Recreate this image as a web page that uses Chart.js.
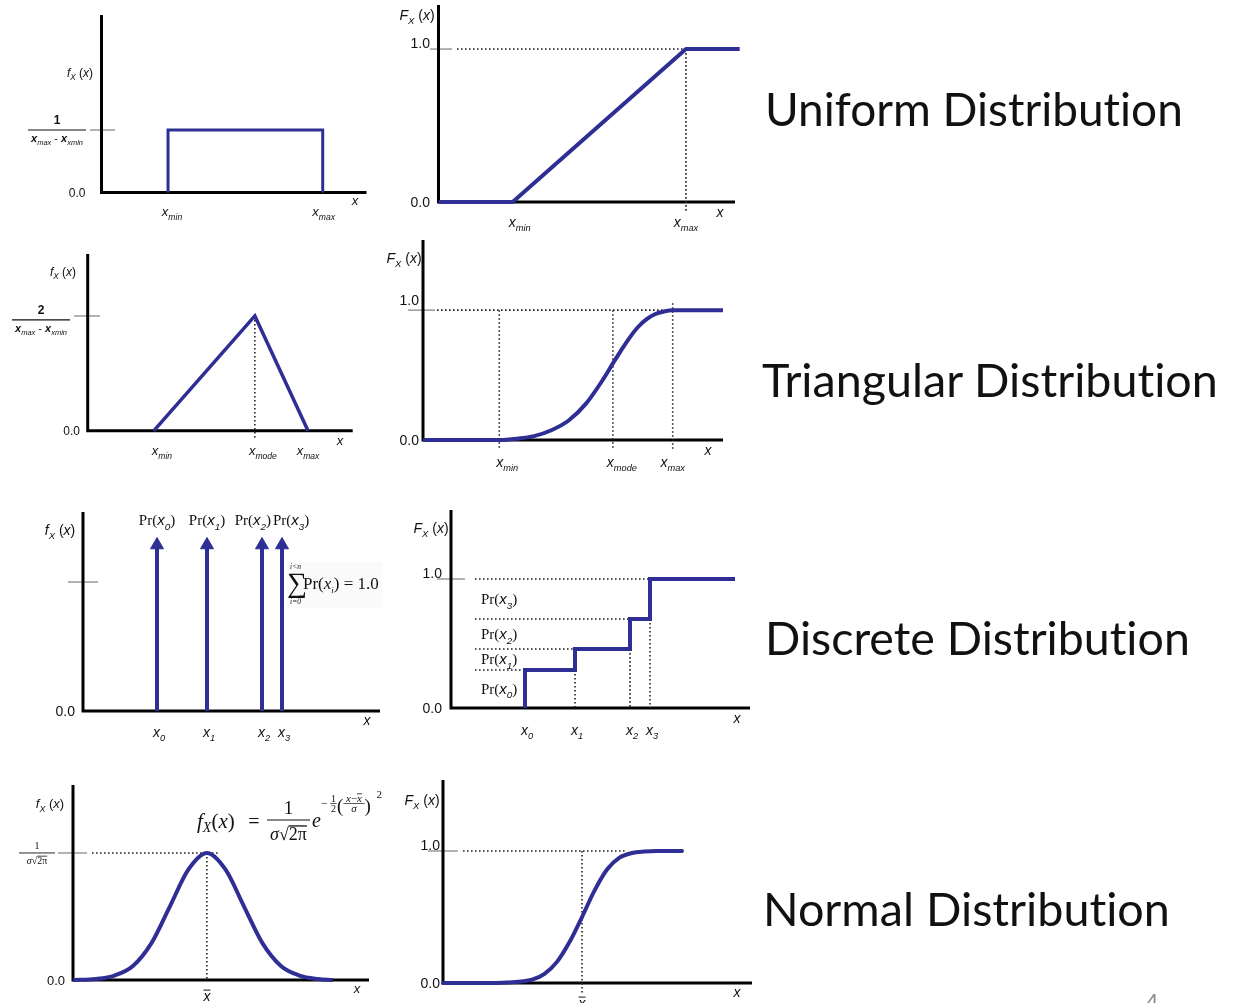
<!DOCTYPE html>
<html>
<head>
<meta charset="utf-8">
<title>Probability distributions</title>
<script src="https://cdn.jsdelivr.net/npm/chart.js@4.4.1/dist/chart.umd.min.js"></script>
<style>
  html, body { margin: 0; padding: 0; background: #fff; }
  body { width: 1243px; height: 1003px; overflow: hidden; position: relative; }
  canvas.panel { position: absolute; left: 0; top: 0; }
  .title { position: absolute; white-space: nowrap; color: #111; font-family: Lato, "Open Sans", "Noto Sans", sans-serif; line-height: 1.2; font-variant-ligatures: none; font-feature-settings: "liga" 0, "clig" 0; }
  .slide-no { position: absolute; left: 1146px; top: 989px; color: #8c8c8c; font: 22px "Liberation Sans", Arial, sans-serif; }
</style>
</head>
<body>
<canvas class="panel" id="uniformPdf"></canvas>
<canvas class="panel" id="uniformCdf"></canvas>
<canvas class="panel" id="triPdf"></canvas>
<canvas class="panel" id="triCdf"></canvas>
<canvas class="panel" id="discPdf"></canvas>
<canvas class="panel" id="discCdf"></canvas>
<canvas class="panel" id="normPdf"></canvas>
<canvas class="panel" id="normCdf"></canvas>
<div class="title" id="tUniform">Uniform Distribution</div>
<div class="title" id="tTri">Triangular Distribution</div>
<div class="title" id="tDisc">Discrete Distribution</div>
<div class="title" id="tNorm">Normal Distribution</div>
<div class="slide-no">4</div>
<script>
// ===========================================
// Uniform / Triangular / Discrete / Normal - pdf & cdf sketches
// ===========================================

// ---- Uniform (x_min = 1, x_max = 2, so 1/(x_max - x_min) = 1) ----
const uniformMarks = [1, 2];
const uniformMarkNames = ['min', 'max'];
const uniformPdfX = [1, 1, 2, 2];
const uniformPdfY = [0, 1, 1, 0];
const uniformCdfX = [0.572, 1, 2, 2.31];
const uniformCdfY = [0, 0, 1, 1];

// ---- Triangular (x_min = 0, x_max = 1) ----
const triMarks = [0, 0.655, 1];
const triMarkNames = ['min', 'mode', 'max'];
const triPdfX = [0, 0.655, 1];
const triPdfY = [0, 2, 0];
const triCdfX = [-0.44, 0, 0.1, 0.2, 0.3, 0.4, 0.5, 0.6, 0.655, 0.7, 0.75, 0.8, 0.85, 0.9, 0.95, 1, 1.29];
const triCdfY = [0, 0, 0.01, 0.03, 0.075, 0.15, 0.28, 0.47, 0.59, 0.685, 0.785, 0.87, 0.93, 0.97, 0.99, 1, 1];

// ---- Discrete ----
const discreteX = [3, 4, 5.1, 5.5];
const discreteNames = ['0', '1', '2', '3'];
const discreteProb = [0.295, 0.162, 0.233, 0.31];
const discreteArrowY = [1.287, 1.287, 1.287, 1.287];
const discreteCdfEnd = 7.2;

// ---- Normal (x in sigma units, mean = 0) ----
const normalPdfX = [-3.62, -3, -2.5, -2, -1.5, -1, -0.5, 0, 0.5, 1, 1.5, 2, 2.5, 3, 3.4];
const normalPdfY = [0, 0.008, 0.035, 0.11, 0.29, 0.58, 0.87, 1, 0.87, 0.58, 0.29, 0.11, 0.035, 0.008, 0];
const normalCdfX = [-5.56, -4, -3, -2, -1.5, -1, -0.5, 0, 0.5, 1, 1.5, 2, 2.5, 3, 4];
const normalCdfY = [0, 0, 0.004, 0.025, 0.07, 0.16, 0.31, 0.5, 0.7, 0.86, 0.95, 0.985, 0.996, 1, 1];
const normalCdfGuideEnd = 1.8;

const yTickLabels = ['0.0', '1.0'];
const titles = ['Uniform Distribution', 'Triangular Distribution', 'Discrete Distribution', 'Normal Distribution'];

// ============================
// drawing helpers
// ============================
const W = 1243, H = 1003;
const BLUE = '#2e2e94';
const SANS = '"Liberation Sans", Arial, Helvetica, sans-serif';
const SERIF = '"Liberation Serif", "Times New Roman", serif';

function R(t, s, o) { return Object.assign({ t: t, s: s }, o || {}); }
function fontOf(r) { return (r.i ? 'italic ' : '') + (r.b ? 'bold ' : '') + r.s + 'px ' + (r.f || SANS); }
function runsWidth(ctx, runs) {
    let w = 0;
    runs.forEach(r => { ctx.font = fontOf(r); w += ctx.measureText(r.t).width + (r.gap || 0); });
    return w;
}
function drawRuns(ctx, runs, x, y, align) {
    const w = runsWidth(ctx, runs);
    let cx = align === 'center' ? x - w / 2 : align === 'right' ? x - w : x;
    ctx.save();
    ctx.fillStyle = '#111'; ctx.strokeStyle = '#111';
    ctx.textAlign = 'left'; ctx.textBaseline = 'alphabetic';
    runs.forEach(r => {
        ctx.font = fontOf(r);
        const tw = ctx.measureText(r.t).width;
        ctx.fillText(r.t, cx, y + (r.dy || 0));
        if (r.over) {
            const oy = y + (r.dy || 0) - r.s * r.over;
            ctx.lineWidth = Math.max(0.8, r.s / 14);
            ctx.beginPath(); ctx.moveTo(cx, oy); ctx.lineTo(cx + tw, oy); ctx.stroke();
        }
        cx += tw + (r.gap || 0);
    });
    ctx.restore();
    return w;
}
function hline(ctx, x1, x2, y, lw) {
    ctx.save(); ctx.strokeStyle = '#111'; ctx.lineWidth = lw || 1.2;
    ctx.beginPath(); ctx.moveTo(x1, y); ctx.lineTo(x2, y); ctx.stroke(); ctx.restore();
}
function fraction(ctx, cx, barY, half, num, den, numUp, denDown, lw) {
    drawRuns(ctx, num, cx, barY - numUp, 'center');
    drawRuns(ctx, den, cx, barY + denDown, 'center');
    hline(ctx, cx - half, cx + half, barY, lw);
}

const fxLabel = (F, s) => [R(F, s, { i: 1 }), R('X', s * 0.68, { i: 1, dy: s * 0.28 }), R(' (', s), R('x', s, { i: 1 }), R(')', s)];
const xSub = (sub, s) => [R('x', s, { i: 1 }), R(sub, s * 0.66, { i: 1, dy: s * 0.3 })];
const prLabel = (sub, s) => [R('Pr(', s, { f: SERIF }), R('x', s, { i: 1 }), R(sub, s * 0.66, { i: 1, dy: s * 0.3 }), R(')', s, { f: SERIF })];
const rangeDen = s => [R('x', s, { i: 1, b: 1 }), R('max', s * 0.68, { i: 1, dy: s * 0.3 }), R(' - ', s), R('x', s, { i: 1, b: 1 }), R('xmin', s * 0.68, { i: 1, dy: s * 0.3 })];
const sigmaDen = s => [R('σ', s, { f: SERIF, i: 1 }), R('√', s, { f: SERIF }), R('2π', s, { f: SERIF, over: 0.78 })];

const px = (c, v) => c.scales.x.getPixelForValue(v);
const py = (c, v) => c.scales.y.getPixelForValue(v);

function axes(c) {
    const ctx = c.ctx, a = c.chartArea;
    ctx.save(); ctx.strokeStyle = '#000'; ctx.lineWidth = 3;
    ctx.beginPath();
    ctx.moveTo(a.left, a.top); ctx.lineTo(a.left, a.bottom + 1.5);
    ctx.moveTo(a.left - 1.5, a.bottom); ctx.lineTo(a.right, a.bottom);
    ctx.stroke(); ctx.restore();
}
function grayTick(c, v, dl, dr) {
    const ctx = c.ctx, a = c.chartArea, y = py(c, v);
    ctx.save(); ctx.strokeStyle = '#8a8a8a'; ctx.lineWidth = 1.3;
    ctx.beginPath(); ctx.moveTo(a.left - dl, y); ctx.lineTo(a.left + dr, y); ctx.stroke(); ctx.restore();
}
function dotted(ctx, x1, y1, x2, y2) {
    ctx.save(); ctx.strokeStyle = '#222'; ctx.lineWidth = 1.6; ctx.setLineDash([1.6, 2.4]);
    ctx.beginPath(); ctx.moveTo(x1, y1); ctx.lineTo(x2, y2); ctx.stroke(); ctx.restore();
}
function tickText(c, text, v, rightX, dy, s) {
    drawRuns(c.ctx, [R(text, s)], rightX, py(c, v) + dy, 'right');
}

function curve(xs, ys, o) {
    return Object.assign({
        data: xs.map((x, i) => ({ x: x, y: ys[i] })),
        borderColor: BLUE, backgroundColor: BLUE, borderWidth: 3.5,
        pointRadius: 0, fill: false, clip: false, tension: 0,
        borderCapStyle: 'butt', borderJoinStyle: 'round'
    }, o || {});
}

function panel(id, area, xr, yr, datasets, under, over) {
    const cv = document.getElementById(id);
    cv.width = W; cv.height = H;
    return new Chart(cv, {
        type: 'line',
        data: { datasets: datasets },
        options: {
            responsive: false, animation: false, events: [],
            layout: { padding: { left: area[0], top: area[1], right: W - area[2], bottom: H - area[3] } },
            plugins: { legend: { display: false }, tooltip: { enabled: false } },
            scales: {
                x: { type: 'linear', min: xr[0], max: xr[1], display: false },
                y: { type: 'linear', min: yr[0], max: yr[1], display: false }
            }
        },
        plugins: [{ id: 'deco_' + id, beforeDatasetsDraw: under, afterDatasetsDraw: over }]
    });
}

// ============================
// 1. Uniform pdf
// ============================
panel('uniformPdf', [101.5, 15, 366.5, 192.5], [0.570, 2.283], [0, 2.84],
    [curve(uniformPdfX, uniformPdfY, { borderWidth: 3, borderJoinStyle: 'miter' })],
    c => { grayTick(c, 1, 11.5, 13.5); axes(c); },
    c => {
        const ctx = c.ctx;
        drawRuns(ctx, fxLabel('f', 12), 80, 77, 'center');
        tickText(c, yTickLabels[0], 0, 85.5, 4, 12);
        fraction(ctx, 57, py(c, 1), 29, [R('1', 12, { b: 1 })], rangeDen(11), 6, 12, 1.2);
        drawRuns(ctx, [R('x', 13, { i: 1 })], 355, 205, 'center');
        uniformMarks.forEach((m, i) => drawRuns(ctx, xSub(uniformMarkNames[i], 13), px(c, m) + (i ? 1 : 4), 216, 'center'));
    });

// ============================
// 2. Uniform cdf
// ============================
panel('uniformCdf', [438.5, 5, 735, 202], [0.572, 2.283], [0, 1.288],
    [curve(uniformCdfX, uniformCdfY, { borderWidth: 4 })],
    c => {
        const ctx = c.ctx, a = c.chartArea, xm = px(c, uniformMarks[1]);
        grayTick(c, 1, 8.5, 13.5); axes(c);
        dotted(ctx, a.left + 18.5, py(c, 1), xm, py(c, 1));
        dotted(ctx, xm, py(c, 1), xm, py(c, 0) + 11);
    },
    c => {
        const ctx = c.ctx;
        drawRuns(ctx, fxLabel('F', 14), 417, 20, 'center');
        tickText(c, yTickLabels[1], 1, 430, -1, 14);
        tickText(c, yTickLabels[0], 0, 430, 5, 14);
        drawRuns(ctx, [R('x', 14, { i: 1 })], 720, 217, 'center');
        uniformMarks.forEach((m, i) => drawRuns(ctx, xSub(uniformMarkNames[i], 14), px(c, m) + (i ? 0 : 7), 227, 'center'));
    });

// ============================
// 3. Triangular pdf
// ============================
panel('triPdf', [87.7, 254, 352.7, 430.7], [-0.43, 1.29], [0, 3.08],
    [curve(triPdfX, triPdfY, { borderWidth: 3.5, borderJoinStyle: 'miter' })],
    c => {
        const xm = px(c, triMarks[1]);
        grayTick(c, 2, 13.7, 12.3); axes(c);
        dotted(c.ctx, xm, py(c, 2), xm, py(c, 0) + 9);
    },
    c => {
        const ctx = c.ctx;
        drawRuns(ctx, fxLabel('f', 12), 63, 276, 'center');
        tickText(c, yTickLabels[0], 0, 80, 4, 12);
        fraction(ctx, 41, py(c, 2) + 4, 29, [R('2', 12, { b: 1 })], rangeDen(11), 6, 12, 1.2);
        drawRuns(ctx, [R('x', 13, { i: 1 })], 340, 445, 'center');
        const nud = [8, 8, 0];
        triMarks.forEach((m, i) => drawRuns(ctx, xSub(triMarkNames[i], 13), px(c, m) + nud[i], 455, 'center'));
    });

// ============================
// 4. Triangular cdf
// ============================
panel('triCdf', [423, 240, 723, 440], [-0.44, 1.29], [0, 1.54],
    [curve(triCdfX, triCdfY, { borderWidth: 4, cubicInterpolationMode: 'monotone' })],
    c => {
        const ctx = c.ctx, a = c.chartArea, y1 = py(c, 1), y0 = py(c, 0);
        grayTick(c, 1, 15, 12); axes(c);
        dotted(ctx, a.left + 14, y1, px(c, 1), y1);
        triMarks.forEach((m, i) => dotted(ctx, px(c, m), y1 - (i === 2 ? 7 : 0), px(c, m), y0 + 10));
    },
    c => {
        const ctx = c.ctx;
        drawRuns(ctx, fxLabel('F', 14), 404, 263, 'center');
        tickText(c, yTickLabels[1], 1, 419, -5, 14);
        tickText(c, yTickLabels[0], 0, 419, 5, 14);
        drawRuns(ctx, [R('x', 14, { i: 1 })], 708, 455, 'center');
        const nud = [8, 9, 0];
        triMarks.forEach((m, i) => drawRuns(ctx, xSub(triMarkNames[i], 14), px(c, m) + nud[i], 467, 'center'));
    });

// ============================
// 5. Discrete pdf (arrows)
// ============================
panel('discPdf', [83, 512, 380, 711], [1.52, 7.46], [0, 1.543],
    discreteX.map((x, i) => curve([x, x], [0, discreteArrowY[i]], {
        borderWidth: 4, pointRadius: [0, 7.5], pointStyle: 'triangle',
        pointBackgroundColor: BLUE, pointBorderColor: BLUE, pointBorderWidth: 1
    })),
    c => {
        const ctx = c.ctx;
        ctx.save(); ctx.fillStyle = '#fafafa'; ctx.fillRect(287, 562, 95, 46); ctx.restore();
        grayTick(c, 1, 15, 15); axes(c);
    },
    c => {
        const ctx = c.ctx;
        drawRuns(ctx, fxLabel('f', 14), 60, 535, 'center');
        tickText(c, yTickLabels[0], 0, 75, 5, 14);
        // Pr(x_i) labels above the arrows, pushed apart where they would overlap
        const lw = runsWidth(ctx, prLabel('0', 15)) + 2;
        const cs = discreteX.map(x => px(c, x));
        for (let k = 0; k < 4; k++) {
            for (let i = 1; i < cs.length; i++) {
                const d = cs[i] - cs[i - 1];
                if (d < lw) { cs[i - 1] -= (lw - d) / 2; cs[i] += (lw - d) / 2; }
            }
        }
        discreteNames.forEach((n, i) => drawRuns(ctx, prLabel(n, 15), cs[i], 525, 'center'));
        // sum formula
        drawRuns(ctx, [R('∑', 28, { f: SERIF })], 287, 592, 'left');
        drawRuns(ctx, [R('i<n', 7.5, { f: SERIF, i: 1 })], 295.5, 569, 'center');
        drawRuns(ctx, [R('i=0', 7.5, { f: SERIF, i: 1 })], 295.5, 604, 'center');
        drawRuns(ctx, [R('Pr(', 17, { f: SERIF }), R('x', 17, { f: SERIF, i: 1 }), R('i', 9, { f: SERIF, i: 1, dy: 4 }),
            R(') = 1.0', 17, { f: SERIF })], 303, 589, 'left');
        drawRuns(ctx, [R('x', 14, { i: 1 })], 367, 725, 'center');
        discreteX.forEach((x, i) => drawRuns(ctx, xSub(discreteNames[i], 14), px(c, x) + 2, 737, 'center'));
    });

// ============================
// 6. Discrete cdf (steps)
// ============================
const discreteCum = [];
discreteProb.reduce((s, p) => { s += p; discreteCum.push(s); return s; }, 0);
const stepX = [discreteX[0]].concat(discreteX, [discreteCdfEnd]);
const stepY = [0].concat(discreteCum, [discreteCum[discreteCum.length - 1]]);

panel('discCdf', [451, 510, 750, 708], [1.52, 7.5], [0, 1.535],
    [curve(stepX, stepY, { borderWidth: 4, stepped: 'before', borderJoinStyle: 'miter' })],
    c => {
        const ctx = c.ctx, a = c.chartArea;
        grayTick(c, 1, 14, 14); axes(c);
        discreteX.forEach((x, i) => {
            dotted(ctx, a.left + 24, py(c, discreteCum[i]), px(c, x), py(c, discreteCum[i]));
            if (i > 0) dotted(ctx, px(c, x), py(c, discreteCum[i - 1]), px(c, x), py(c, 0));
        });
    },
    c => {
        const ctx = c.ctx;
        drawRuns(ctx, fxLabel('F', 14), 431, 533, 'center');
        tickText(c, yTickLabels[1], 1, 442, -1, 14);
        tickText(c, yTickLabels[0], 0, 442, 5, 14);
        const levels = [0].concat(discreteCum);
        discreteNames.forEach((n, i) => drawRuns(ctx, prLabel(n, 15), 481, py(c, (levels[i] + levels[i + 1]) / 2) + 5, 'left'));
        drawRuns(ctx, [R('x', 14, { i: 1 })], 737, 723, 'center');
        discreteX.forEach((x, i) => drawRuns(ctx, xSub(discreteNames[i], 14), px(c, x) + 2, 735, 'center'));
    });

// ============================
// 7. Normal pdf
// ============================
panel('normPdf', [73, 785, 369, 980], [-3.62, 4.38], [0, 1.535],
    [curve(normalPdfX, normalPdfY, { borderWidth: 4, cubicInterpolationMode: 'monotone' })],
    c => {
        const ctx = c.ctx, a = c.chartArea, xm = px(c, 0), y1 = py(c, 1);
        grayTick(c, 1, 15, 14); axes(c);
        dotted(ctx, a.left + 19, y1, xm + 13, y1);
        dotted(ctx, xm, y1, xm, py(c, 0));
    },
    c => {
        const ctx = c.ctx;
        drawRuns(ctx, fxLabel('f', 13), 50, 808, 'center');
        fraction(ctx, 37, py(c, 1), 18, [R('1', 10, { f: SERIF })], sigmaDen(10), 4, 11, 0.9);
        tickText(c, yTickLabels[0], 0, 65, 5, 13);
        drawRuns(ctx, [R('x', 14, { i: 1, over: 0.78 })], px(c, 0), 1001, 'center');
        drawRuns(ctx, [R('x', 13, { i: 1 })], 357, 993, 'center');
        // f_X(x) = 1/(sigma sqrt(2 pi)) e^{-1/2((x - xbar)/sigma)^2}
        drawRuns(ctx, [R('f', 21, { f: SERIF, i: 1 }), R('X', 14, { f: SERIF, i: 1, dy: 4 }), R('(', 21, { f: SERIF }),
            R('x', 21, { f: SERIF, i: 1 }), R(')', 21, { f: SERIF })], 197, 828, 'left');
        drawRuns(ctx, [R('=', 20, { f: SERIF })], 254, 828, 'center');
        fraction(ctx, 288.5, 820, 21.5, [R('1', 19, { f: SERIF })], sigmaDen(18), 6, 20, 1.2);
        drawRuns(ctx, [R('e', 20, { f: SERIF, i: 1 })], 312, 827, 'left');
        drawRuns(ctx, [R('−', 12, { f: SERIF })], 321, 807, 'left');
        fraction(ctx, 333.5, 803.5, 3.2, [R('1', 10, { f: SERIF })], [R('2', 10, { f: SERIF })], 1.5, 8, 0.7);
        drawRuns(ctx, [R('(', 19, { f: SERIF })], 337, 812, 'left');
        fraction(ctx, 354, 803.5, 10.5, [R('x', 11, { f: SERIF, i: 1 }), R('−', 11, { f: SERIF }), R('x', 11, { f: SERIF, i: 1, over: 0.72 })],
            [R('σ', 11, { f: SERIF, i: 1 })], 1.8, 8.5, 0.7);
        drawRuns(ctx, [R(')', 19, { f: SERIF })], 364.5, 812, 'left');
        drawRuns(ctx, [R('2', 11, { f: SERIF })], 376.5, 798, 'left');
    });

// ============================
// 8. Normal cdf
// ============================
panel('normCdf', [443, 780, 752, 983], [-5.56, 6.8], [0, 1.538],
    [curve(normalCdfX, normalCdfY, { borderWidth: 4, cubicInterpolationMode: 'monotone', borderCapStyle: 'round' })],
    c => {
        const ctx = c.ctx, a = c.chartArea, xm = px(c, 0), y1 = py(c, 1);
        grayTick(c, 1, 15, 15); axes(c);
        dotted(ctx, a.left + 20, y1, px(c, normalCdfGuideEnd), y1);
        dotted(ctx, xm, y1, xm, py(c, 0) + 12);
    },
    c => {
        const ctx = c.ctx;
        drawRuns(ctx, fxLabel('F', 14), 422, 805, 'center');
        tickText(c, yTickLabels[1], 1, 440, -1, 14);
        tickText(c, yTickLabels[0], 0, 440, 5, 14);
        drawRuns(ctx, [R('x', 14, { i: 1, over: 0.78 })], px(c, 0), 1008, 'center');
        drawRuns(ctx, [R('x', 14, { i: 1 })], 737, 997, 'center');
    });

// ============================
// titles on the right (real text), fitted to the measured width
// ============================
const titleSpots = [
    { id: 'tUniform', left: 765, width: 418, base: 126 },
    { id: 'tTri', left: 762, width: 456, base: 397 },
    { id: 'tDisc', left: 765, width: 425, base: 655 },
    { id: 'tNorm', left: 763, width: 407, base: 926 }
];
titleSpots.forEach((s, i) => {
    const el = document.getElementById(s.id);
    el.textContent = titles[i];
    el.style.left = s.left + 'px';
    el.style.top = '0px';
    el.style.fontSize = '46px';
    const w = el.getBoundingClientRect().width;
    el.style.fontSize = (46 * s.width / w) + 'px';
    const mark = document.createElement('span');
    mark.style.cssText = 'display:inline-block;width:0;height:0;';
    el.appendChild(mark);
    const off = mark.getBoundingClientRect().top - el.getBoundingClientRect().top;
    el.style.top = (s.base - off) + 'px';
});
</script>
</body>
</html>
